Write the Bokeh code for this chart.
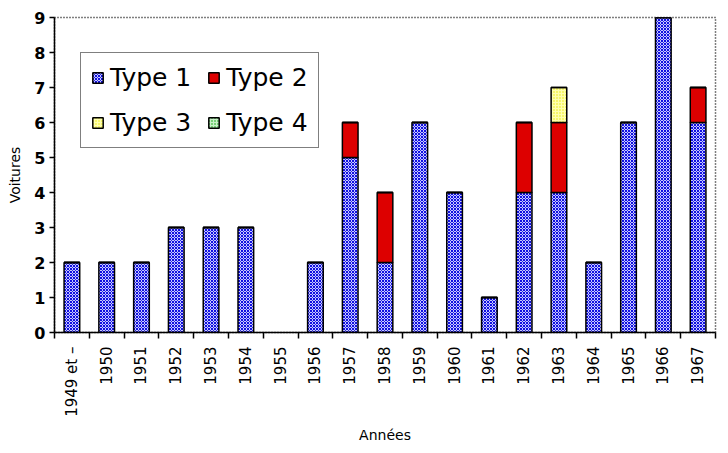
from math import pi
from bokeh.plotting import figure
from bokeh.models import FixedTicker, Legend, LegendItem, ColumnDataSource, Range1d
from bokeh.embed import file_html
from bokeh.resources import INLINE

years = ["1949 et –", "1950", "1951", "1952", "1953", "1954", "1955", "1956",
         "1957", "1958", "1959", "1960", "1961", "1962", "1963", "1964",
         "1965", "1966", "1967"]
type1 = [2, 2, 2, 3, 3, 3, 0, 2, 5, 2, 6, 4, 1, 4, 4, 2, 6, 9, 6]
type2 = [0, 0, 0, 0, 0, 0, 0, 0, 1, 2, 0, 0, 0, 2, 2, 0, 0, 0, 1]
type3 = [0, 0, 0, 0, 0, 0, 0, 0, 0, 0, 0, 0, 0, 0, 1, 0, 0, 0, 0]
type4 = [0] * 19
series_names = ["Type 1", "Type 2", "Type 3", "Type 4"]
y_ticks = [0, 1, 2, 3, 4, 5, 6, 7, 8, 9]

xs = [i + 0.5 for i in range(len(years))]
totals = [a + b + c + d for a, b, c, d in zip(type1, type2, type3, type4)]
src = ColumnDataSource(dict(x=xs, t1=type1, t2=type2, t3=type3, t4=type4,
                            la=[1.0 if t > 0 else 0.0 for t in totals]))

p = figure(width=720, height=445, output_backend="svg", toolbar_location=None,
           x_range=Range1d(0, len(years)), y_range=Range1d(0, 9),
           min_border_left=54, min_border_right=5, min_border_top=17, min_border_bottom=113)
p.background_fill_color = "white"
p.border_fill_color = "white"
p.xgrid.visible = False
p.ygrid.visible = False
p.outline_line_color = "black"
p.outline_line_dash = "1 2"
p.outline_line_width = 1.5

renderers = p.vbar_stack(
    ["t1", "t2", "t3", "t4"], x="x", width=0.45, source=src,
    fill_color=["#c8c8ff", "#dd0000", "#ffffb0", "#c8f0c8"],
    hatch_pattern=["x", " ", ".", "."],
    hatch_color=["#1010e0", "#dd0000", "#e8e800", "#00a000"],
    hatch_scale=[3, 3, 3, 3],
    hatch_weight=[1, 1, 1.2, 1.2],
    line_alpha="la",
    line_color="black", line_width=1.5)

# y axis
ya = p.yaxis[0]
ya.ticker = FixedTicker(ticks=y_ticks)
ya.minor_tick_line_color = None
ya.major_tick_in = 0
ya.major_tick_out = 5
ya.axis_line_width = 1.5
ya.major_tick_line_width = 1.5
ya.major_label_text_font = "DejaVu Sans"
ya.major_label_text_font_size = "16px"
ya.major_label_text_font_style = "bold"
ya.major_label_text_color = "black"
ya.major_label_standoff = 4
ya.axis_label = "Voitures"
ya.axis_label_text_font = "DejaVu Sans"
ya.axis_label_text_font_size = "14px"
ya.axis_label_text_font_style = "normal"
ya.axis_label_text_color = "black"
ya.axis_label_standoff = 8

# x axis
xa = p.xaxis[0]
xa.ticker = FixedTicker(ticks=xs, minor_ticks=list(range(len(years) + 1)))
xa.major_label_overrides = {x: y for x, y in zip(xs, years)}
xa.major_tick_in = 0
xa.major_tick_out = 0
xa.minor_tick_in = 0
xa.minor_tick_out = 6
xa.minor_tick_line_width = 1.5
xa.axis_line_width = 1.5
xa.major_label_orientation = pi / 2
xa.major_label_text_font = "DejaVu Sans"
xa.major_label_text_font_size = "15px"
xa.major_label_text_color = "black"
xa.major_label_standoff = 8
xa.axis_label = "Années"
xa.axis_label_text_font = "DejaVu Sans"
xa.axis_label_text_font_size = "14px"
xa.axis_label_text_font_style = "normal"
xa.axis_label_text_color = "black"
xa.axis_label_standoff = 7

order = [0, 2, 1, 3]
legend = Legend(
    items=[LegendItem(label=series_names[i], renderers=[renderers[i]], index=0) for i in order],
    location=(26, 184), ncols=2,
    label_text_font="DejaVu Sans", label_text_font_size="25px",
    label_text_color="black",
    glyph_width=13, glyph_height=13, label_standoff=6,
    spacing=16, padding=10, margin=0,
    border_line_color="black", border_line_width=1.5,
    background_fill_alpha=1.0)
p.add_layout(legend, "center")

open("out.html", "w").write(file_html(p, INLINE))
